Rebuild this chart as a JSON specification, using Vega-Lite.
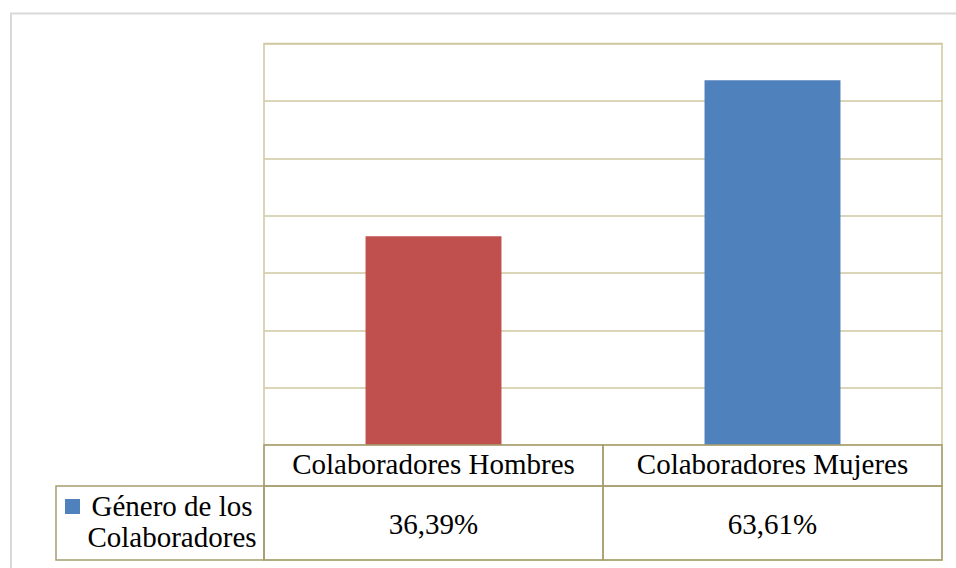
{
  "$schema": "https://vega.github.io/schema/vega-lite/v6.json",
  "width": 678,
  "height": 516.5,
  "autosize": "none",
  "padding": {"left": 264, "top": 43.5, "right": 14, "bottom": 8},
  "background": "white",
  "config": {
    "view": {"stroke": "#d0c8a0", "strokeWidth": 1.5},
    "locale": {"number": {"decimal": ",", "thousands": ".", "grouping": [3], "currency": ["", " €"]}},
    "text": {"font": "'Times New Roman', 'Liberation Serif', serif", "fontSize": 29, "color": "black"}
  },
  "datasets": {
    "datos": [
      {"categoria": "Colaboradores Hombres", "porcentaje": 0.3639},
      {"categoria": "Colaboradores Mujeres", "porcentaje": 0.6361}
    ],
    "serie": [{"serie": "Género de los\nColaboradores"}]
  },
  "resolve": {"scale": {"x": "independent"}},
  "layer": [
    {
      "data": {"name": "datos"},
      "mark": {"type": "bar", "width": {"band": 0.401}},
      "encoding": {
        "x": {"field": "categoria", "type": "nominal", "scale": {"paddingInner": 0, "paddingOuter": 0}, "axis": null},
        "y": {"field": "porcentaje", "type": "quantitative", "scale": {"domain": [-0.2005, 0.7], "nice": false, "zero": false}, "axis": {"values": [0, 0.1, 0.2, 0.3, 0.4, 0.5, 0.6, 0.7], "grid": true, "gridColor": "#d0c8a0", "gridWidth": 1.5, "labels": false, "ticks": false, "domain": false, "title": null}},
        "y2": {"datum": 0},
        "color": {"field": "categoria", "type": "nominal", "scale": {"range": ["#c0504d", "#4f81bd"]}, "legend": null}
      }
    },
    {
      "data": {"name": "serie"},
      "mark": {"type": "rect", "fill": "transparent", "stroke": "#d9d9d9", "strokeWidth": 2},
      "encoding": {
        "x": {"datum": -0.7463, "type": "quantitative", "scale": {"domain": [0, 2], "nice": false, "zero": false}, "axis": null},
        "x2": {"datum": 2.3},
        "y": {"datum": 0.7523, "type": "quantitative"},
        "y2": {"datum": -0.3}
      }
    },
    {
      "data": {"name": "datos"},
      "mark": {"type": "bar", "fill": "transparent", "stroke": "#a69d6f", "strokeWidth": 1.5},
      "encoding": {
        "x": {"field": "categoria", "type": "nominal", "scale": {"paddingInner": 0, "paddingOuter": 0}, "axis": null},
        "y": {"datum": 0, "type": "quantitative"},
        "y2": {"datum": -0.0715}
      }
    },
    {
      "data": {"name": "datos"},
      "mark": {"type": "bar", "fill": "transparent", "stroke": "#a69d6f", "strokeWidth": 1.5},
      "encoding": {
        "x": {"field": "categoria", "type": "nominal", "scale": {"paddingInner": 0, "paddingOuter": 0}, "axis": null},
        "y": {"datum": -0.0715, "type": "quantitative"},
        "y2": {"datum": -0.2005}
      }
    },
    {
      "data": {"name": "datos"},
      "mark": {"type": "text"},
      "encoding": {
        "x": {"field": "categoria", "type": "nominal", "scale": {"paddingInner": 0, "paddingOuter": 0}, "axis": null},
        "y": {"datum": -0.0357, "type": "quantitative"},
        "text": {"field": "categoria", "type": "nominal"}
      }
    },
    {
      "data": {"name": "datos"},
      "mark": {"type": "text"},
      "encoding": {
        "x": {"field": "categoria", "type": "nominal", "scale": {"paddingInner": 0, "paddingOuter": 0}, "axis": null},
        "y": {"datum": -0.1395, "type": "quantitative"},
        "text": {"field": "porcentaje", "type": "quantitative", "format": ".2%"}
      }
    },
    {
      "data": {"name": "serie"},
      "mark": {"type": "rect", "fill": "transparent", "stroke": "#a69d6f", "strokeWidth": 1.5},
      "encoding": {
        "x": {"datum": -0.6136, "type": "quantitative", "scale": {"domain": [0, 2], "nice": false, "zero": false}, "axis": null},
        "x2": {"datum": 0},
        "y": {"datum": -0.0715, "type": "quantitative"},
        "y2": {"datum": -0.2005}
      }
    },
    {
      "data": {"name": "serie"},
      "mark": {"type": "point", "shape": "square", "filled": true, "size": 225, "color": "#4f81bd", "opacity": 1},
      "encoding": {
        "x": {"datum": -0.5649, "type": "quantitative", "scale": {"domain": [0, 2], "nice": false, "zero": false}, "axis": null},
        "y": {"datum": -0.1072, "type": "quantitative"}
      }
    },
    {
      "data": {"name": "serie"},
      "mark": {"type": "text", "lineBreak": "\n", "lineHeight": 31},
      "encoding": {
        "x": {"datum": -0.2714, "type": "quantitative", "scale": {"domain": [0, 2], "nice": false, "zero": false}, "axis": null},
        "y": {"datum": -0.1081, "type": "quantitative"},
        "text": {"field": "serie", "type": "nominal"}
      }
    }
  ]
}
